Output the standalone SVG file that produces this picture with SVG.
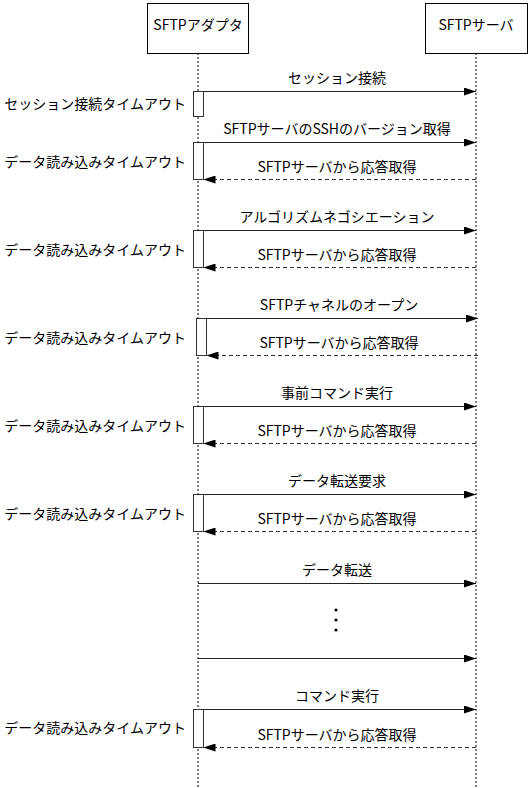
<svg xmlns="http://www.w3.org/2000/svg" width="529" height="788" viewBox="0 0 529 788">
<style>
text{font-family:"Noto Sans CJK JP","Noto Sans",sans-serif;font-size:14px;fill:#000}
.c{text-anchor:middle}
.r{text-anchor:end}
.box{fill:#fff;stroke:#000;stroke-width:1}
.life{stroke:#000;stroke-width:1;stroke-dasharray:2,2;fill:none}
.act{fill:#fff;stroke:#333;stroke-width:1}
.fw{stroke:#222;stroke-width:1.2;fill:none;marker-end:url(#ah)}
.rt{stroke:#333;stroke-width:1.2;stroke-dasharray:4,3;fill:none;marker-end:url(#ah)}
</style>
<defs>
<marker id="ah" markerUnits="userSpaceOnUse" markerWidth="12" markerHeight="8" refX="12" refY="4" orient="auto">
<path d="M0,0 L12,4 L0,8 z" fill="#000"/>
</marker>
</defs>
<rect width="529" height="788" fill="#fff"/>
<g id="lifelines">
<line class="life" x1="198" y1="53" x2="198" y2="788"/>
<line class="life" x1="476" y1="53" x2="476" y2="788"/>
</g>
<g id="adapter">
<rect class="box" x="147.5" y="3.5" width="101" height="50"/>
<text class="c" x="198" y="30">SFTPアダプタ</text>
</g>
<g id="server">
<rect class="box" x="425.5" y="3.5" width="102" height="50"/>
<text class="c" x="476" y="30">SFTPサーバ</text>
</g>
<g id="activations">
<rect class="act" x="193.5" y="91.5" width="10" height="25"/>
<rect class="act" x="193.5" y="142.5" width="10" height="37"/>
<rect class="act" x="193.5" y="230.5" width="10" height="37"/>
<rect class="act" x="196.5" y="318.5" width="10" height="37"/>
<rect class="act" x="193.5" y="406.5" width="10" height="37"/>
<rect class="act" x="193.5" y="494.5" width="10" height="37"/>
<rect class="act" x="193.5" y="709.5" width="10" height="38"/>
</g>
<g id="timeouts">
<text class="r" x="186" y="109">セッション接続タイムアウト</text>
<text class="r" x="186" y="167">データ読み込みタイムアウト</text>
<text class="r" x="186" y="255">データ読み込みタイムアウト</text>
<text class="r" x="186" y="343">データ読み込みタイムアウト</text>
<text class="r" x="186" y="431">データ読み込みタイムアウト</text>
<text class="r" x="186" y="519">データ読み込みタイムアウト</text>
<text class="r" x="186" y="733">データ読み込みタイムアウト</text>
</g>
<g id="connectors">
<line class="fw" x1="203.5" y1="91.5" x2="476" y2="91.5"/>
<line class="fw" x1="203.5" y1="142.5" x2="476" y2="142.5"/>
<line class="rt" x1="476" y1="179.5" x2="203.5" y2="179.5"/>
<line class="fw" x1="203.5" y1="230.5" x2="476" y2="230.5"/>
<line class="rt" x1="476" y1="267.5" x2="203.5" y2="267.5"/>
<line class="fw" x1="206.5" y1="318.5" x2="478" y2="318.5"/>
<line class="rt" x1="478" y1="355.5" x2="206.5" y2="355.5"/>
<line class="fw" x1="203.5" y1="406.5" x2="476" y2="406.5"/>
<line class="rt" x1="476" y1="443.5" x2="203.5" y2="443.5"/>
<line class="fw" x1="203.5" y1="494.5" x2="476" y2="494.5"/>
<line class="rt" x1="476" y1="531.5" x2="203.5" y2="531.5"/>
<line class="fw" x1="198" y1="583.5" x2="476" y2="583.5"/>
<line class="fw" x1="198" y1="658.5" x2="476" y2="658.5"/>
<line class="fw" x1="203.5" y1="709.5" x2="476" y2="709.5"/>
<line class="rt" x1="476" y1="747.5" x2="203.5" y2="747.5"/>
</g>
<g id="labels">
<text class="c" x="337" y="83">セッション接続</text>
<text class="c" x="337" y="134">SFTPサーバのSSHのバージョン取得</text>
<text class="c" x="337" y="172">SFTPサーバから応答取得</text>
<text class="c" x="337" y="222">アルゴリズムネゴシエーション</text>
<text class="c" x="337" y="260">SFTPサーバから応答取得</text>
<text class="c" x="339" y="310">SFTPチャネルのオープン</text>
<text class="c" x="339" y="348">SFTPサーバから応答取得</text>
<text class="c" x="337" y="398">事前コマンド実行</text>
<text class="c" x="337" y="436">SFTPサーバから応答取得</text>
<text class="c" x="337" y="486">データ転送要求</text>
<text class="c" x="337" y="524">SFTPサーバから応答取得</text>
<text class="c" x="337" y="575">データ転送</text>
<text class="c" x="337" y="701">コマンド実行</text>
<text class="c" x="337" y="740">SFTPサーバから応答取得</text>
</g>
<g id="ellipsis" fill="#000">
<circle cx="336" cy="610" r="1.6"/>
<circle cx="336" cy="620" r="1.6"/>
<circle cx="336" cy="630" r="1.6"/>
</g>
</svg>
